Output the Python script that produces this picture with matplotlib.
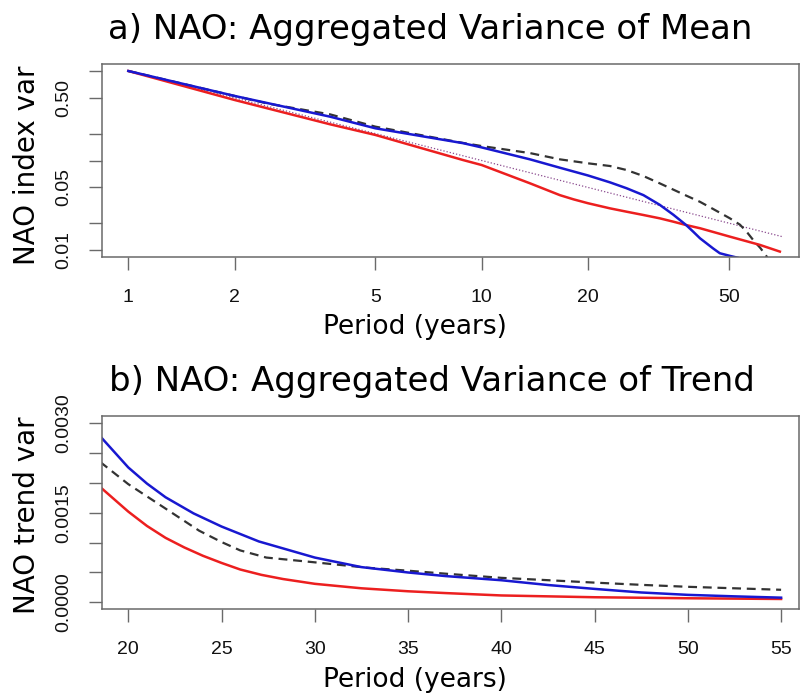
import matplotlib
matplotlib.use("Agg")
import matplotlib.pyplot as plt
from matplotlib.ticker import FixedLocator, FixedFormatter, NullLocator

# ---- a) aggregated variance of the mean (log-log) ----
mean_red_period = [1, 2, 3.72, 5, 8.87, 10, 13.7, 16.65, 18.2, 20, 23.07, 25.7,
                   28.7, 31.9, 34.9, 37.9, 41.5, 50.4, 61.3, 69.8]
mean_red_var = [1.0, 0.474, 0.254, 0.193, 0.101, 0.089, 0.0556, 0.041, 0.0368,
                0.0333, 0.0292, 0.0268, 0.0246, 0.0226, 0.0207, 0.019, 0.0175,
                0.0141, 0.0114, 0.0096]

mean_blue_period = [1, 2, 3.72, 5, 8.87, 10, 13.7, 16.65, 20, 23.07, 25.7, 28.7,
                    31.9, 34.9, 37.9, 39.7, 41.5, 45.2, 47.2, 50.4, 53.0]
mean_blue_var = [1.0, 0.526, 0.309, 0.229, 0.156, 0.140, 0.103, 0.083, 0.068,
                 0.057, 0.049, 0.041, 0.032, 0.0247, 0.019, 0.016, 0.0135,
                 0.0104, 0.0092, 0.0086, 0.0082]

mean_dash_period = [1, 2, 2.5, 3.72, 5, 8.87, 10, 13.7, 16.65, 20, 23.07, 25.7,
                    28.7, 31.9, 35.6, 38.2, 41.5, 45.2, 50.4, 53.8, 56, 58.7,
                    61.5, 64, 66]
mean_dash_var = [1.0, 0.526, 0.43, 0.328, 0.239, 0.157, 0.145, 0.121, 0.103,
                 0.093, 0.0868, 0.0783, 0.067, 0.0556, 0.0455, 0.040, 0.0345,
                 0.0287, 0.0226, 0.0192, 0.0163, 0.0129, 0.0105, 0.0085, 0.0068]

mean_dot_period = [1, 70.7]
mean_dot_var = [1.0, 0.01414]

mean_xticks = [1, 2, 5, 10, 20, 50]
mean_xticklabels = ["1", "2", "5", "10", "20", "50"]
mean_yticks = [0.01, 0.02, 0.05, 0.1, 0.2, 0.5, 1.0]
mean_yticklabels = ["0.01", "", "0.05", "", "", "0.50", ""]

# ---- b) aggregated variance of the trend ----
trend_red_period = [18.5, 20, 21, 22, 23, 24, 25, 26, 27.14, 28.3, 30, 32.5, 35,
                    37, 40, 45, 50, 55]
trend_red_var = [0.00193, 0.00152, 0.00128, 0.00108, 0.00092, 0.00078, 0.00066,
                 0.00055, 0.00046, 0.00039, 0.00031, 0.000235, 0.000185,
                 0.000155, 0.000115, 0.000085, 0.000068, 0.000056]

trend_blue_period = [18.5, 20, 21, 22, 23.5, 25, 27, 30, 32.5, 35, 37, 40, 42.5,
                     45, 47.5, 50, 52.5, 55]
trend_blue_var = [0.00278, 0.00226, 0.00199, 0.00176, 0.00149, 0.00127, 0.00102,
                  0.00075, 0.00059, 0.00050, 0.00044, 0.00037, 0.00029,
                  0.000225, 0.000165, 0.000125, 0.0001, 0.000078]

trend_dash_period = [18.5, 20, 22, 23.8, 25, 26, 27.4, 30, 32.8, 35, 37, 40,
                     42.3, 45, 47.7, 50, 55]
trend_dash_var = [0.00235, 0.00198, 0.00157, 0.0012, 0.00101, 0.00087, 0.00075,
                  0.00067, 0.00058, 0.00053, 0.00048, 0.00041, 0.000374,
                  0.00033, 0.00029, 0.00026, 0.00021]

trend_xticks = [20, 25, 30, 35, 40, 45, 50, 55]
trend_yticks = [0.0, 0.0005, 0.0010, 0.0015, 0.0020, 0.0025, 0.0030]
trend_yticklabels = ["0.0000", "", "", "0.0015", "", "", "0.0030"]

RED = "#ec1f1f"
BLUE = "#1818d0"
DARK = "#333333"
PURPLE = "#8a4a8e"
FRAME = "#6a6a6a"
TICKFONT = "Liberation Sans"
TEXTFONT = "DejaVu Sans"

W, H = 800, 695
fig = plt.figure(figsize=(W / 100, H / 100), dpi=100)


def frac_box(left, top, right, bottom):
    return [left / W, 1 - bottom / H, (right - left) / W, (bottom - top) / H]


def style_axes(ax):
    for s in ax.spines.values():
        s.set_color(FRAME)
        s.set_linewidth(1.1)
    ax.tick_params(axis="both", direction="out", length=9.5, width=1.0,
                   color=FRAME, labelsize=14, labelcolor="#111111")
    ax.tick_params(axis="x", pad=13)
    ax.tick_params(axis="y", pad=12)
    for lab in ax.get_xticklabels() + ax.get_yticklabels():
        lab.set_fontfamily(TICKFONT)


ax1 = fig.add_axes(frac_box(101.7, 64, 799, 257.3))
ax1.plot(mean_dot_period, mean_dot_var, color=PURPLE, lw=0.9,
         linestyle=(0, (1, 1.6)))
ax1.plot(mean_dash_period, mean_dash_var, color=DARK, lw=1.6,
         dashes=(4, 2.6))
ax1.plot(mean_red_period, mean_red_var, color=RED, lw=1.8)
ax1.plot(mean_blue_period, mean_blue_var, color=BLUE, lw=1.8)
ax1.set_xscale("log")
ax1.set_yscale("log")
ax1.set_xlim(0.8407, 79.07)
ax1.set_ylim(0.00829, 1.197)
ax1.xaxis.set_major_locator(FixedLocator(mean_xticks))
ax1.xaxis.set_major_formatter(FixedFormatter(mean_xticklabels))
ax1.xaxis.set_minor_locator(NullLocator())
ax1.yaxis.set_major_locator(FixedLocator(mean_yticks))
ax1.yaxis.set_major_formatter(FixedFormatter(mean_yticklabels))
ax1.yaxis.set_minor_locator(NullLocator())
style_axes(ax1)
for lab in ax1.get_yticklabels():
    lab.set_rotation(90)
    lab.set_va("center")

ax2 = fig.add_axes(frac_box(101.7, 415.7, 799, 609.3))
ax2.plot(trend_dash_period, trend_dash_var, color=DARK, lw=1.6,
         dashes=(4, 2.6))
ax2.plot(trend_red_period, trend_red_var, color=RED, lw=1.8)
ax2.plot(trend_blue_period, trend_blue_var, color=BLUE, lw=1.8)
ax2.set_xlim(18.575, 55.96)
ax2.set_ylim(-0.000117, 0.003127)
ax2.xaxis.set_major_locator(FixedLocator(trend_xticks))
ax2.xaxis.set_major_formatter(FixedFormatter([str(t) for t in trend_xticks]))
ax2.yaxis.set_major_locator(FixedLocator(trend_yticks))
ax2.yaxis.set_major_formatter(FixedFormatter(trend_yticklabels))
style_axes(ax2)
for lab in ax2.get_yticklabels():
    lab.set_rotation(90)
    lab.set_va("center")

# titles and axis labels
fig.text(430 / W, 1 - 29 / H, "a) NAO: Aggregated Variance of Mean",
         ha="center", va="center", fontsize=24.5, family=TEXTFONT)
fig.text(432 / W, 1 - 382 / H, "b) NAO: Aggregated Variance of Trend",
         ha="center", va="center", fontsize=24.5, family=TEXTFONT)
fig.text(415 / W, 1 - 327 / H, "Period (years)", ha="center", va="center",
         fontsize=19, family=TEXTFONT)
fig.text(415 / W, 1 - 680 / H, "Period (years)", ha="center", va="center",
         fontsize=19, family=TEXTFONT)
fig.text(27 / W, 1 - 165 / H, "NAO index var", ha="center", va="center",
         rotation=90, fontsize=20, family=TEXTFONT)
fig.text(27 / W, 1 - 515 / H, "NAO trend var", ha="center", va="center",
         rotation=90, fontsize=20, family=TEXTFONT)

fig.savefig("out.png", dpi=100, facecolor="white")
